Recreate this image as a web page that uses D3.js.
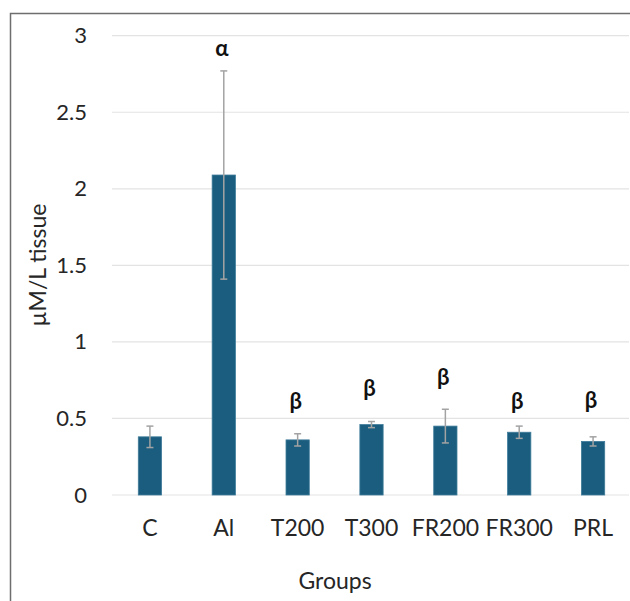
<!DOCTYPE html>
<html>
<head>
<meta charset="utf-8">
<script src="https://cdn.jsdelivr.net/npm/d3@7"></script>
<style>
  body { margin: 0; background: #fff; }
  svg { display: block; font-family: Lato, "Open Sans", sans-serif; }
</style>
</head>
<body>
<svg id="chartSvg" width="630" height="601"></svg>
<script>
// chart data
const groups = ["C", "Al", "T200", "T300", "FR200", "FR300", "PRL"];
const means = [0.38, 2.09, 0.36, 0.46, 0.45, 0.41, 0.35];
const errors = [0.07, 0.68, 0.04, 0.02, 0.11, 0.04, 0.03];
const letters = ["", "α", "β", "β", "β", "β", "β"];
const letterAt = [0, 2.87, 0.56, 0.645, 0.72, 0.56, 0.565]; // baseline of the letter, in axis units
const yTicks = [0, 0.5, 1, 1.5, 2, 2.5, 3];

const svg = d3.select("#chartSvg");

// frame of the original figure (cropped on right/bottom)
svg.append("path")
    .attr("d", "M10.5,601 V13.5 H630")
    .attr("fill", "none")
    .attr("stroke", "#6e6e6e")
    .attr("stroke-width", 1.5);

const x = d3.scaleBand()
    .domain(groups)
    .range([113, 630])
    .paddingInner(0.685)
    .paddingOuter(0.3425);

const y = d3.scaleLinear()
    .domain([0, 3])
    .range([495, 35.7]);

// gridlines
svg.append("g")
    .selectAll("line")
    .data(yTicks)
    .join("line")
    .attr("x1", 112)
    .attr("x2", 629)
    .attr("y1", d => y(d))
    .attr("y2", d => y(d))
    .attr("stroke", "#e3e3e3")
    .attr("stroke-width", 1.2);

// y axis labels
const yAxis = svg.append("g")
    .attr("transform", "translate(87,0)")
    .call(d3.axisLeft(y).tickValues(yTicks).tickFormat(d => String(d)).tickSize(0).tickPadding(0));
yAxis.select(".domain").remove();
yAxis.selectAll("text")
    .style("font-family", "Lato, sans-serif")
    .style("font-size", "22px")
    .attr("fill", "#262626");

// x axis labels
const xAxis = svg.append("g")
    .attr("transform", "translate(0,520)")
    .call(d3.axisBottom(x).tickSize(0).tickPadding(0));
xAxis.select(".domain").remove();
xAxis.selectAll("text")
    .style("font-family", "Lato, sans-serif")
    .style("font-size", "23px")
    .attr("fill", "#262626");

// bars
svg.append("g")
    .selectAll("rect")
    .data(groups)
    .join("rect")
    .attr("x", d => x(d))
    .attr("y", (d, i) => y(means[i]))
    .attr("width", x.bandwidth())
    .attr("height", (d, i) => y(0) - y(means[i]))
    .attr("fill", "#1b5d7e")
    .attr("stroke", "#3f7c9a")
    .attr("stroke-width", 0.8);

// error bars
const err = svg.append("g")
    .attr("stroke", "#a3a3a3")
    .attr("stroke-width", 1.5);

groups.forEach((g, i) => {
    const cx = x(g) + x.bandwidth() / 2;
    const top = y(means[i] + errors[i]);
    const bottom = y(means[i] - errors[i]);
    err.append("line")
        .attr("x1", cx).attr("x2", cx)
        .attr("y1", top).attr("y2", bottom);
    err.append("line")
        .attr("x1", cx - 3.5).attr("x2", cx + 3.5)
        .attr("y1", top).attr("y2", top);
    err.append("line")
        .attr("x1", cx - 3.5).attr("x2", cx + 3.5)
        .attr("y1", bottom).attr("y2", bottom);
});

// significance letters
svg.append("g")
    .selectAll("text")
    .data(groups)
    .join("text")
    .attr("x", d => x(d) + x.bandwidth() / 2 - 2)
    .attr("y", (d, i) => y(letterAt[i]))
    .attr("text-anchor", "middle")
    .style("font-size", "22px")
    .style("font-weight", "bold")
    .attr("fill", "#111")
    .text((d, i) => letters[i]);

// axis titles
svg.append("text")
    .attr("x", 335)
    .attr("y", 589)
    .attr("text-anchor", "middle")
    .style("font-size", "23px")
    .attr("fill", "#262626")
    .text("Groups");

svg.append("text")
    .attr("transform", "translate(46,265) rotate(-90)")
    .attr("text-anchor", "middle")
    .style("font-size", "23px")
    .attr("fill", "#262626")
    .text("µM/L tissue");
</script>
</body>
</html>
